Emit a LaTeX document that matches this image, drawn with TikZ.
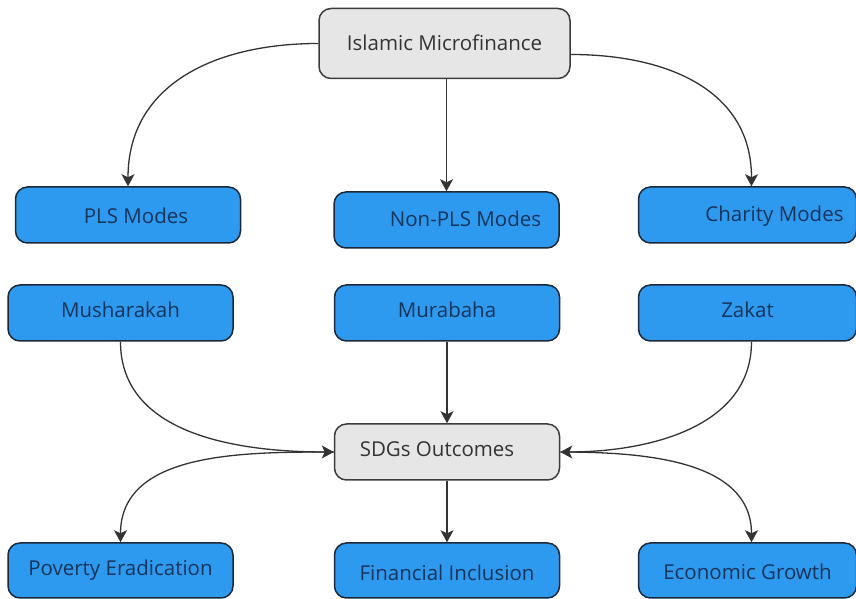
\documentclass[tikz,border=0pt]{standalone}
\usepackage{fontspec}
\setmainfont{Open Sans}
\usepackage{xcolor}
\usepackage{tikz}
\usetikzlibrary{arrows.meta}

\definecolor{modeblue}{RGB}{45,154,240}
\definecolor{modeline}{RGB}{28,40,56}
\definecolor{modetext}{RGB}{22,52,90}
\definecolor{hubgray}{RGB}{230,230,230}
\definecolor{hubline}{RGB}{60,60,60}
\definecolor{linkgray}{RGB}{51,51,51}

\begin{document}
\begin{tikzpicture}[x=1pt, y=1pt, >={Stealth[length=12pt,width=13pt,inset=3pt]},
    font=\fontsize{20.5}{24}\selectfont,
    mode/.style={draw=modeline, fill=modeblue, text=modetext, rectangle, rounded corners=12pt,
        line width=1.5pt, minimum width=225pt, minimum height=56pt, text height=14pt, text depth=4pt},
    hub/.style={mode, draw=hubline, fill=hubgray, text=linkgray},
    link/.style={->, draw=linkgray, line width=1.3pt}]

    \useasboundingbox (0,0) rectangle (856,599);

    % top of the tree
    \node [hub, minimum width=251pt, minimum height=70pt] (imf) at (444.5,555.5) {\raisebox{-2pt}{Islamic Microfinance}};

    % modes
    \node [mode] (pls) at (128,384) {\hspace*{16pt}\raisebox{-4pt}{PLS Modes}};
    \node [mode] (nonpls) at (446.5,379) {\hspace*{38pt}\raisebox{-2pt}{Non-PLS Modes}};
    \node [mode, minimum width=218pt] (charity) at (747.5,384) {\hspace*{54pt}\raisebox{-2pt}{Charity Modes}};

    % contracts
    \node [mode] (mush) at (120.5,286) {Musharakah};
    \node [mode] (murab) at (447,286) {Murabaha};
    \node [mode, minimum width=218pt] (zakat) at (747.5,286) {Zakat};

    % outcomes
    \node [hub] (sdgs) at (447,147) {SDGs Outcomes\hspace*{20pt}};
    \node [mode, minimum height=55pt] (poverty) at (120.5,28.5) {Poverty Eradication};
    \node [mode, minimum height=55pt] (finance) at (447,28.5) {\raisebox{-5pt}{Financial Inclusion}};
    \node [mode, minimum width=218pt, minimum height=55pt] (growth) at (747.5,28.5) {\raisebox{-4pt}{Economic Growth}};

    \draw [link] (imf.west) to[out=180, in=90, looseness=1.1] (pls.north);
    \draw [link] (imf.south -| nonpls.north) -- (nonpls.north);
    \draw [link] ([yshift=-11pt]imf.east) to[out=0, in=90, looseness=1.1] ([xshift=4pt]charity.north);

    \draw [link] (mush.south) to[out=-90, in=180] (sdgs.west);
    \draw [link] (murab.south) -- (sdgs.north);
    \draw [link] ([xshift=4pt]zakat.south) to[out=-90, in=0] (sdgs.east);

    \draw [link] (sdgs.west) to[out=180, in=90] (poverty.north);
    \draw [link] (sdgs.south) -- (finance.north);
    \draw [link] (sdgs.east) to[out=0, in=90] ([xshift=4pt]growth.north);
\end{tikzpicture}
\end{document}
